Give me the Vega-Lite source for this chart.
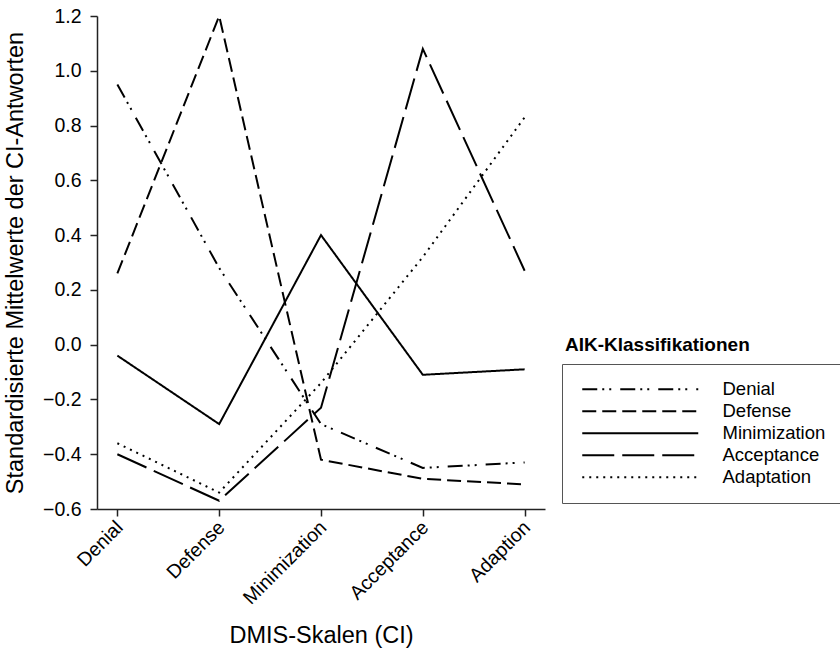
{
  "$schema": "https://vega.github.io/schema/vega-lite/v6.json",
  "width": 448,
  "height": 493,
  "autosize": {"type": "none"},
  "padding": {"left": 97, "top": 16, "right": 295, "bottom": 142},
  "config": {
    "font": "Liberation Sans",
    "view": {"stroke": null},
    "axis": {"grid": false, "domainColor": "#222", "tickColor": "#222", "domainWidth": 1.5, "tickWidth": 1.5, "labelColor": "#000", "titleColor": "#000"}
  },
  "data": {
    "values": [
      {"klasse": "Denial", "skala": "Denial", "wert": 0.95, "grp": "alle"},
      {"klasse": "Denial", "skala": "Defense", "wert": 0.28, "grp": "alle"},
      {"klasse": "Denial", "skala": "Minimization", "wert": -0.29, "grp": "alle"},
      {"klasse": "Denial", "skala": "Acceptance", "wert": -0.45, "grp": "alle"},
      {"klasse": "Denial", "skala": "Adaption", "wert": -0.43, "grp": "alle"},
      {"klasse": "Defense", "skala": "Denial", "wert": 0.26, "grp": "alle"},
      {"klasse": "Defense", "skala": "Defense", "wert": 1.2, "grp": "alle"},
      {"klasse": "Defense", "skala": "Minimization", "wert": -0.42, "grp": "alle"},
      {"klasse": "Defense", "skala": "Acceptance", "wert": -0.49, "grp": "alle"},
      {"klasse": "Defense", "skala": "Adaption", "wert": -0.51, "grp": "alle"},
      {"klasse": "Minimization", "skala": "Denial", "wert": -0.04, "grp": "alle"},
      {"klasse": "Minimization", "skala": "Defense", "wert": -0.29, "grp": "alle"},
      {"klasse": "Minimization", "skala": "Minimization", "wert": 0.40, "grp": "alle"},
      {"klasse": "Minimization", "skala": "Acceptance", "wert": -0.11, "grp": "alle"},
      {"klasse": "Minimization", "skala": "Adaption", "wert": -0.09, "grp": "alle"},
      {"klasse": "Acceptance", "skala": "Denial", "wert": -0.40, "grp": "alle"},
      {"klasse": "Acceptance", "skala": "Defense", "wert": -0.57, "grp": "alle"},
      {"klasse": "Acceptance", "skala": "Minimization", "wert": -0.23, "grp": "alle"},
      {"klasse": "Acceptance", "skala": "Acceptance", "wert": 1.08, "grp": "alle"},
      {"klasse": "Acceptance", "skala": "Adaption", "wert": 0.27, "grp": "alle"},
      {"klasse": "Adaptation", "skala": "Denial", "wert": -0.36, "grp": "alle"},
      {"klasse": "Adaptation", "skala": "Defense", "wert": -0.54, "grp": "alle"},
      {"klasse": "Adaptation", "skala": "Minimization", "wert": -0.14, "grp": "alle"},
      {"klasse": "Adaptation", "skala": "Acceptance", "wert": 0.32, "grp": "alle"},
      {"klasse": "Adaptation", "skala": "Adaption", "wert": 0.83, "grp": "alle"}
    ]
  },
  "mark": {"type": "line", "color": "#000", "strokeCap": "butt"},
  "encoding": {
    "x": {
      "field": "skala", "type": "nominal",
      "sort": ["Denial", "Defense", "Minimization", "Acceptance", "Adaption"],
      "scale": {"type": "point", "padding": 0.2},
      "axis": {
        "title": "DMIS-Skalen (CI)", "titleFontSize": 23.5, "titleFontWeight": "normal", "titlePadding": 16,
        "labelAngle": -45, "labelAlign": "right", "labelBaseline": "middle", "labelFontSize": 19.5, "labelPadding": 8, "labelOffset": 2,
        "tickSize": 7
      }
    },
    "y": {
      "field": "wert", "type": "quantitative",
      "scale": {"domain": [-0.6, 1.2], "nice": false, "zero": false},
      "axis": {
        "title": "Standardisierte Mittelwerte der CI-Antworten", "titleFontSize": 23.5, "titleFontWeight": "normal", "titlePadding": 15,
        "values": [-0.6, -0.4, -0.2, 0, 0.2, 0.4, 0.6, 0.8, 1.0, 1.2], "format": ".1f",
        "labelFontSize": 19.5, "labelPadding": 9, "tickSize": 7
      }
    },
    "strokeDash": {
      "field": "klasse", "type": "nominal",
      "scale": {
        "domain": ["Denial", "Defense", "Minimization", "Acceptance", "Adaptation"],
        "range": [[15, 5, 2, 5, 2, 9], [14, 6], [1, 0], [32, 8], [2, 5]]
      },
      "legend": {
        "title": null, "orient": "none", "legendX": 465, "legendY": 348,
        "symbolType": "M-1,0H22.2", "symbolSize": 100, "symbolStrokeWidth": 2, "symbolStrokeColor": "#000",
        "labelFontSize": 18.5, "labelOffset": 126, "labelColor": "#000", "rowPadding": 3,
        "padding": 16, "strokeColor": "#555", "labelLimit": 300
      }
    },
    "strokeWidth": {
      "field": "grp", "type": "ordinal",
      "scale": {"range": [2, 2]},
      "legend": {
        "title": "AIK-Klassifikationen", "titleFontSize": 19, "titleFontWeight": "bold", "titleColor": "#000", "titleLimit": 400,
        "orient": "none", "legendX": 468, "legendY": 320, "padding": 0, "titlePadding": 0,
        "symbolOpacity": 0, "symbolSize": 0, "labelExpr": "''", "labelOpacity": 0
      }
    }
  }
}
